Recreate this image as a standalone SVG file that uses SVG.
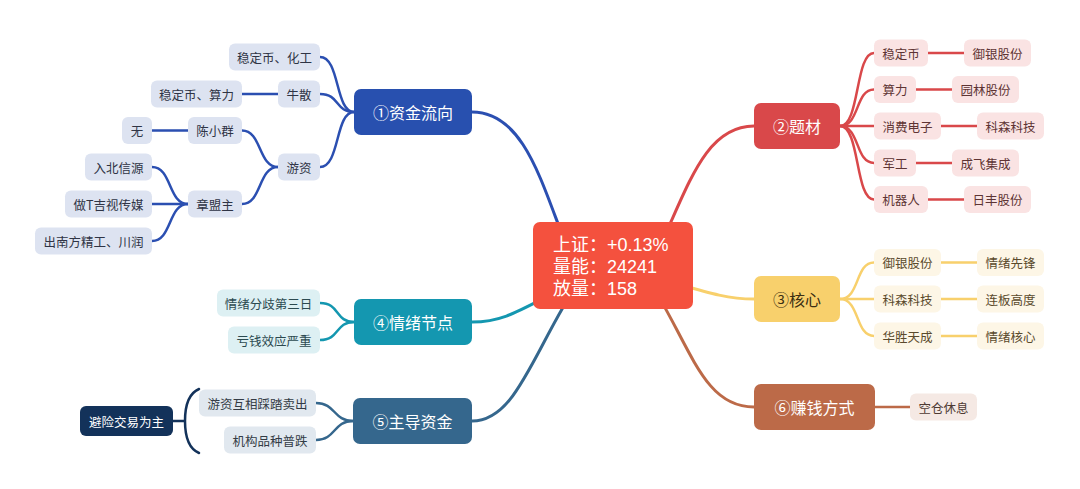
<svg xmlns="http://www.w3.org/2000/svg" width="1080" height="489" viewBox="0 0 1080 489">
<style>
text{font-family:"Noto Sans CJK SC","Microsoft YaHei","Noto Sans",sans-serif;text-anchor:middle;dominant-baseline:central}
.main{font-size:16px;fill:#fff}
.sub{font-size:12.5px}
.ct{font-family:"Liberation Sans","Noto Sans CJK SC",sans-serif;font-size:18px;fill:#fff;text-anchor:start}
.c{fill:none;stroke-linecap:round}
.mc{stroke-width:3}
.sc{stroke-width:2.5}
.blue{stroke:#2B4FB1}.red{stroke:#D9484A}.yel{stroke:#F8D06C}.brn{stroke:#BC6A48}.teal{stroke:#1497B0}.steel{stroke:#35678D}
.kb{fill:#DDE3F1}.kr{fill:#FAE3E3}.ky{fill:#FDF6E6}.kbr{fill:#F5E9E4}.kt{fill:#DDF0F3}.ks{fill:#E1E8EF}
.tb{fill:#2F3445}.tr{fill:#5E3434}.ty{fill:#5A4A2C}.tbr{fill:#4E3A33}.tt{fill:#2C4A50}.ts{fill:#333B45}
</style>
<rect width="1080" height="489" fill="#fff"/>
<g id="connectors">
<path class="c mc blue" d="M472 112 C530 112 545 200 575 266"/>
<path class="c mc red" d="M754 126 C700 126 685 200 650 266"/>
<path class="c mc yel" d="M754 299 C715 299 690 285 612 266"/>
<path class="c mc brn" d="M754 407 C700 407 690 340 640 266"/>
<path class="c mc teal" d="M472 322 C515 322 530 300 612 266"/>
<path class="c mc steel" d="M472 421 C520 421 535 340 590 266"/>
<path class="c sc blue" d="M320 57 C340 57 335 112 354 112"/>
<path class="c sc blue" d="M320 94 C340 94 335 112 354 112"/>
<path class="c sc blue" d="M320 167 C340 167 335 112 354 112"/>
<path class="c sc blue" d="M242 94 L278 94"/>
<path class="c sc blue" d="M242 130.5 C262 130.5 258 167 278 167"/>
<path class="c sc blue" d="M242 204 C262 204 258 167 278 167"/>
<path class="c sc blue" d="M152 130.5 L188 130.5"/>
<path class="c sc blue" d="M152 167 C172 167 168 204 188 204"/>
<path class="c sc blue" d="M152 204 L188 204"/>
<path class="c sc blue" d="M152 241 C172 241 168 204 188 204"/>
<path class="c sc red" d="M840 126 C860 126 855 53 874 53"/>
<path class="c sc red" d="M840 126 C860 126 855 89.5 874 89.5"/>
<path class="c sc red" d="M840 126 L874 126"/>
<path class="c sc red" d="M840 126 C860 126 855 163 874 163"/>
<path class="c sc red" d="M840 126 C860 126 855 199.5 874 199.5"/>
<path class="c sc red" d="M928 53 L964 53"/>
<path class="c sc red" d="M916 89.5 L952 89.5"/>
<path class="c sc red" d="M941 126 L977 126"/>
<path class="c sc red" d="M916 163 L952 163"/>
<path class="c sc red" d="M928 199.5 L964 199.5"/>
<path class="c sc yel" d="M840 299 C860 299 855 262.5 874 262.5"/>
<path class="c sc yel" d="M840 299 L874 299"/>
<path class="c sc yel" d="M840 299 C860 299 855 336 874 336"/>
<path class="c sc yel" d="M941 262.5 L977 262.5"/>
<path class="c sc yel" d="M941 299 L977 299"/>
<path class="c sc yel" d="M941 336 L977 336"/>
<path class="c sc brn" d="M875 407 L910 407"/>
<path class="c sc teal" d="M320 303 C340 303 335 322 354 322"/>
<path class="c sc teal" d="M320 340 C340 340 335 322 354 322"/>
<path class="c sc steel" d="M316 403 C336 403 333 421 353 421"/>
<path class="c sc steel" d="M316 440 C336 440 333 421 353 421"/>
<path class="c" stroke="#13325A" stroke-width="2.5" d="M199 389 Q185 395 185 421 Q185 447 199 453 M173 421 L185 421"/>
</g>
<g id="center"><rect x="533" y="222" width="160" height="87" rx="7" fill="#F4513E"/>
<text class="ct" x="553" y="245">上证：+0.13%</text>
<text class="ct" x="553" y="267">量能：24241</text>
<text class="ct" x="553" y="289">放量：158</text></g>
<g id="n1"><rect x="354" y="89" width="118" height="46" rx="7" fill="#2850AF"/><text class="main" x="413" y="112">①资金流向</text></g>
<g id="n1a"><rect class="kb" x="229" y="43.5" width="91" height="27" rx="6"/><text class="sub tb" x="274.5" y="57">稳定币、化工</text></g>
<g id="n1b"><rect class="kb" x="278" y="80.5" width="42" height="27" rx="6"/><text class="sub tb" x="299" y="94">牛散</text></g>
<g id="n1b1"><rect class="kb" x="151" y="80.5" width="91" height="27" rx="6"/><text class="sub tb" x="196.5" y="94">稳定币、算力</text></g>
<g id="n1c"><rect class="kb" x="278" y="153.5" width="42" height="27" rx="6"/><text class="sub tb" x="299" y="167">游资</text></g>
<g id="n1c1"><rect class="kb" x="188" y="117" width="54" height="27" rx="6"/><text class="sub tb" x="215" y="130.5">陈小群</text></g>
<g id="n1c1a"><rect class="kb" x="122" y="117" width="30" height="27" rx="6"/><text class="sub tb" x="137" y="130.5">无</text></g>
<g id="n1c2"><rect class="kb" x="188" y="190.5" width="54" height="27" rx="6"/><text class="sub tb" x="215" y="204">章盟主</text></g>
<g id="n1c2a"><rect class="kb" x="85" y="153.5" width="67" height="27" rx="6"/><text class="sub tb" x="118.5" y="167">入北信源</text></g>
<g id="n1c2b"><rect class="kb" x="65" y="190.5" width="87" height="27" rx="6"/><text class="sub tb" x="108.5" y="204">做T吉视传媒</text></g>
<g id="n1c2c"><rect class="kb" x="35" y="227.5" width="117" height="27" rx="6"/><text class="sub tb" x="93.5" y="241">出南方精工、川润</text></g>
<g id="n2"><rect x="754" y="103" width="86" height="46" rx="7" fill="#D9484A"/><text class="main" x="797" y="126">②题材</text></g>
<g id="n2a"><rect class="kr" x="874" y="39.5" width="54" height="27" rx="6"/><text class="sub tr" x="901" y="53">稳定币</text></g>
<g id="n2a1"><rect class="kr" x="964" y="39.5" width="67" height="27" rx="6"/><text class="sub tr" x="997.5" y="53">御银股份</text></g>
<g id="n2b"><rect class="kr" x="874" y="76" width="42" height="27" rx="6"/><text class="sub tr" x="895" y="89.5">算力</text></g>
<g id="n2b1"><rect class="kr" x="952" y="76" width="67" height="27" rx="6"/><text class="sub tr" x="985.5" y="89.5">园林股份</text></g>
<g id="n2c"><rect class="kr" x="874" y="112.5" width="67" height="27" rx="6"/><text class="sub tr" x="907.5" y="126">消费电子</text></g>
<g id="n2c1"><rect class="kr" x="977" y="112.5" width="67" height="27" rx="6"/><text class="sub tr" x="1010.5" y="126">科森科技</text></g>
<g id="n2d"><rect class="kr" x="874" y="149.5" width="42" height="27" rx="6"/><text class="sub tr" x="895" y="163">军工</text></g>
<g id="n2d1"><rect class="kr" x="952" y="149.5" width="67" height="27" rx="6"/><text class="sub tr" x="985.5" y="163">成飞集成</text></g>
<g id="n2e"><rect class="kr" x="874" y="186" width="54" height="27" rx="6"/><text class="sub tr" x="901" y="199.5">机器人</text></g>
<g id="n2e1"><rect class="kr" x="964" y="186" width="67" height="27" rx="6"/><text class="sub tr" x="997.5" y="199.5">日丰股份</text></g>
<g id="n3"><rect x="754" y="276" width="86" height="46" rx="7" fill="#F8D06C"/><text class="main" x="797" y="299" style="fill:#3A2E12">③核心</text></g>
<g id="n3a"><rect class="ky" x="874" y="249" width="67" height="27" rx="6"/><text class="sub ty" x="907.5" y="262.5">御银股份</text></g>
<g id="n3a1"><rect class="ky" x="977" y="249" width="67" height="27" rx="6"/><text class="sub ty" x="1010.5" y="262.5">情绪先锋</text></g>
<g id="n3b"><rect class="ky" x="874" y="285.5" width="67" height="27" rx="6"/><text class="sub ty" x="907.5" y="299">科森科技</text></g>
<g id="n3b1"><rect class="ky" x="977" y="285.5" width="67" height="27" rx="6"/><text class="sub ty" x="1010.5" y="299">连板高度</text></g>
<g id="n3c"><rect class="ky" x="874" y="322.5" width="67" height="27" rx="6"/><text class="sub ty" x="907.5" y="336">华胜天成</text></g>
<g id="n3c1"><rect class="ky" x="977" y="322.5" width="67" height="27" rx="6"/><text class="sub ty" x="1010.5" y="336">情绪核心</text></g>
<g id="n6"><rect x="754" y="384" width="121" height="46" rx="7" fill="#BC6A48"/><text class="main" x="814.5" y="407">⑥赚钱方式</text></g>
<g id="n6a"><rect class="kbr" x="910" y="393.5" width="67" height="27" rx="6"/><text class="sub tbr" x="943.5" y="407">空仓休息</text></g>
<g id="n4"><rect x="354" y="299" width="118" height="46" rx="7" fill="#1497B0"/><text class="main" x="413" y="322">④情绪节点</text></g>
<g id="n4a"><rect class="kt" x="217" y="289.5" width="103" height="27" rx="6"/><text class="sub tt" x="268.5" y="303">情绪分歧第三日</text></g>
<g id="n4b"><rect class="kt" x="228" y="326.5" width="92" height="27" rx="6"/><text class="sub tt" x="274" y="340">亏钱效应严重</text></g>
<g id="n5"><rect x="353" y="398" width="119" height="46" rx="7" fill="#35678D"/><text class="main" x="412.5" y="421">⑤主导资金</text></g>
<g id="n5a"><rect class="ks" x="199" y="389.5" width="117" height="27" rx="6"/><text class="sub ts" x="257.5" y="403">游资互相踩踏卖出</text></g>
<g id="n5b"><rect class="ks" x="224" y="426.5" width="92" height="27" rx="6"/><text class="sub ts" x="270" y="440">机构品种普跌</text></g>
<g id="n5s"><rect x="80" y="406" width="93" height="30" rx="6" fill="#13325A"/><text class="sub" x="126.5" y="421" style="fill:#fff">避险交易为主</text></g>
</svg>
